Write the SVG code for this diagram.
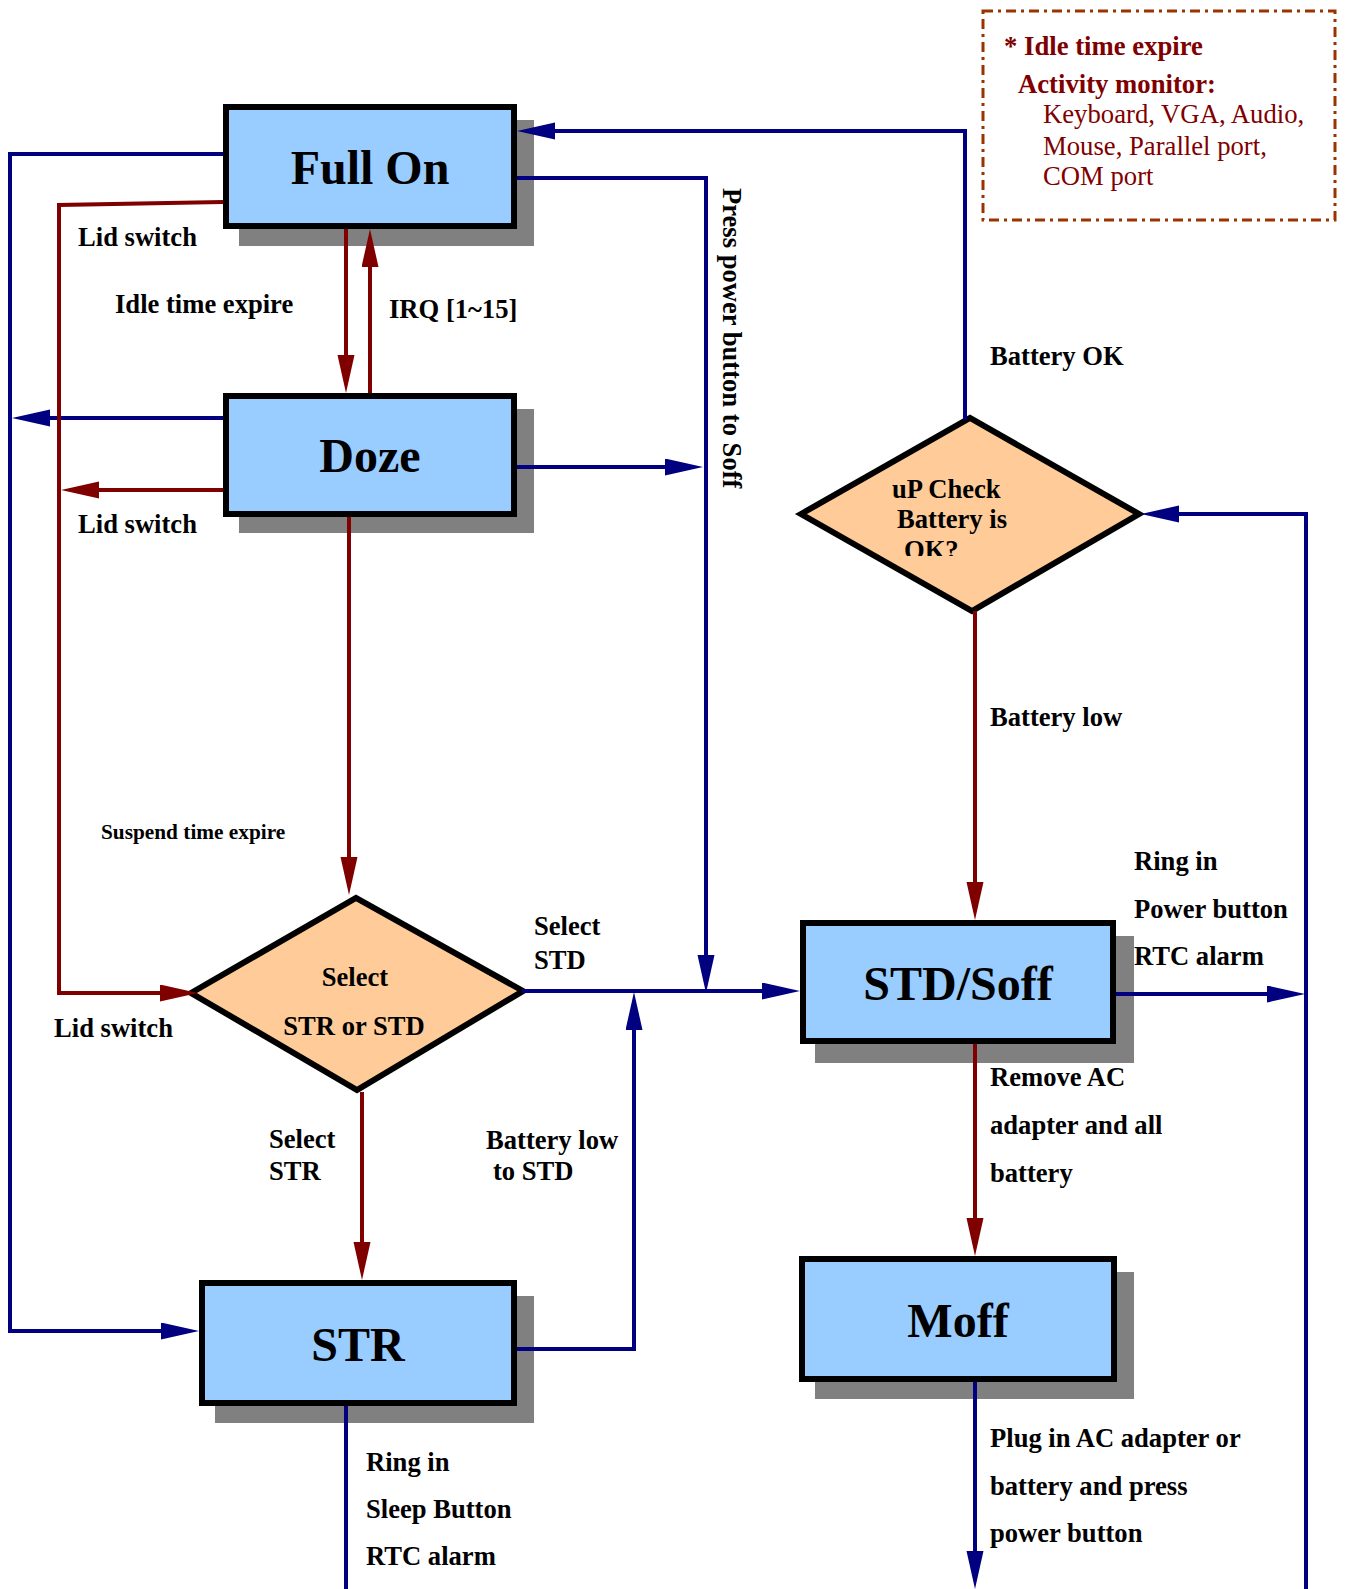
<svg xmlns="http://www.w3.org/2000/svg" width="1345" height="1589" viewBox="0 0 1345 1589">
<style>
.box{fill:#99CCFF;stroke:#000;stroke-width:6}
.shadow{fill:#808080}
.dia{fill:#FFCC99;stroke:#000;stroke-width:6;stroke-linejoin:miter}
.big{font-family:"Liberation Serif","Times New Roman",serif;font-weight:bold;font-size:48px;fill:#000;text-anchor:middle}
.lbl{font-family:"Liberation Serif","Times New Roman",serif;font-weight:bold;font-size:26.6px;fill:#000}
.small{font-family:"Liberation Serif","Times New Roman",serif;font-weight:bold;font-size:21.3px;fill:#000}
.note{font-family:"Liberation Serif","Times New Roman",serif;font-size:26.7px;fill:#800000}
.b{fill:none;stroke:#000080;stroke-width:4}
.r{fill:none;stroke:#800000;stroke-width:4}
.bm{marker-end:url(#ab)}
.rm{marker-end:url(#ar)}
</style>
<defs>
<marker id="ab" markerUnits="userSpaceOnUse" markerWidth="40" markerHeight="18" refX="28" refY="8.5" orient="auto" viewBox="0 0 40 18">
<path d="M0,0 L38,8.5 L0,17 Z" fill="#000080"/>
</marker>
<marker id="ar" markerUnits="userSpaceOnUse" markerWidth="40" markerHeight="18" refX="28" refY="8.5" orient="auto" viewBox="0 0 40 18">
<path d="M0,0 L38,8.5 L0,17 Z" fill="#800000"/>
</marker>
<clipPath id="okclip"><rect x="850" y="470" width="200" height="86"/></clipPath>
</defs>
<rect width="1345" height="1589" fill="#fff"/>

<g id="note">
<rect x="983" y="11" width="352" height="209" fill="none" stroke="#993300" stroke-width="3" stroke-dasharray="10,5,3,5"/>
<text class="note" x="1004" y="55" font-weight="bold">* Idle time expire</text>
<text class="note" x="1018" y="93" font-weight="bold">Activity monitor:</text>
<text class="note" x="1043" y="123">Keyboard, VGA, Audio,</text>
<text class="note" x="1043" y="155">Mouse, Parallel port,</text>
<text class="note" x="1043" y="185">COM port</text>
</g>

<g id="fullon">
<rect class="shadow" x="239" y="120" width="295" height="126"/>
<rect class="box" x="226" y="107" width="288" height="119"/>
<text class="big" x="370" y="184">Full On</text>
</g>
<g id="doze">
<rect class="shadow" x="239" y="409" width="295" height="124"/>
<rect class="box" x="226" y="396" width="288" height="118"/>
<text class="big" x="370" y="472">Doze</text>
</g>
<g id="str">
<rect class="shadow" x="215" y="1296" width="319" height="127"/>
<rect class="box" x="202" y="1283" width="312" height="120"/>
<text class="big" x="358" y="1361">STR</text>
</g>
<g id="stdsoff">
<rect class="shadow" x="815" y="936" width="319" height="127"/>
<rect class="box" x="803" y="923" width="310" height="118"/>
<text class="big" x="958" y="1000">STD/Soff</text>
</g>
<g id="moff">
<rect class="shadow" x="815" y="1272" width="319" height="127"/>
<rect class="box" x="802" y="1259" width="312" height="120"/>
<text class="big" x="958" y="1337">Moff</text>
</g>
<g id="upcheck">
<polygon class="dia" points="801,514 970,418 1139,514 972,611"/>
<text class="lbl" x="892" y="498">uP Check</text>
<text class="lbl" x="897" y="528">Battery is</text>
<text class="lbl" x="904" y="559" clip-path="url(#okclip)">OK?</text>
</g>
<g id="select">
<polygon class="dia" points="191,993 356,898 523,991 357,1090"/>
<text class="lbl" x="355" y="986" text-anchor="middle">Select</text>
<text class="lbl" x="354" y="1035" text-anchor="middle">STR or STD</text>
</g>

<g id="connectors">
<path class="b bm" d="M223,154 H10 V1331 H189"/>
<path class="b bm" d="M223,418 H22"/>
<path class="r rm" d="M223,202 L59,205 V993 H188"/>
<path class="r rm" d="M223,490 H71"/>
<path class="r rm" d="M346,229 V383"/>
<path class="r rm" d="M370,393 V239"/>
<path class="r rm" d="M349,517 V885"/>
<path class="b bm" d="M517,178 H706 V983"/>
<path class="b bm" d="M517,467 H693"/>
<path class="b bm" d="M522,991 H790"/>
<path class="b bm" d="M517,1349 H634 V1002"/>
<path class="r rm" d="M362,1092 V1270"/>
<path class="b" d="M346,1406 V1589"/>
<path class="r rm" d="M975,611 V910"/>
<path class="b bm" d="M965,420 V131 H527"/>
<path class="b bm" d="M1116,994 H1295"/>
<path class="b bm" d="M1306,1589 V514 H1151"/>
<path class="r rm" d="M975,1044 V1246"/>
<path class="b bm" d="M975,1382 V1579"/>
</g>

<g id="labels">
<text class="lbl" x="78" y="246">Lid switch</text>
<text class="lbl" x="115" y="313">Idle time expire</text>
<text class="lbl" x="389" y="318">IRQ [1~15]</text>
<text class="lbl" x="78" y="533">Lid switch</text>
<text class="lbl" transform="translate(723,188) rotate(90)">Press power button to Soff</text>
<text class="lbl" x="990" y="365">Battery OK</text>
<text class="lbl" x="990" y="726">Battery low</text>
<text class="small" x="101" y="839">Suspend time expire</text>
<text class="lbl" x="534" y="935">Select</text>
<text class="lbl" x="534" y="969">STD</text>
<text class="lbl" x="54" y="1037">Lid switch</text>
<text class="lbl" x="1134" y="870">Ring in</text>
<text class="lbl" x="1134" y="918">Power button</text>
<text class="lbl" x="1134" y="965">RTC alarm</text>
<text class="lbl" x="269" y="1148">Select</text>
<text class="lbl" x="269" y="1180">STR</text>
<text class="lbl" x="486" y="1149">Battery low</text>
<text class="lbl" x="493" y="1180">to STD</text>
<text class="lbl" x="990" y="1086">Remove AC</text>
<text class="lbl" x="990" y="1134">adapter and all</text>
<text class="lbl" x="990" y="1182">battery</text>
<text class="lbl" x="366" y="1471">Ring in</text>
<text class="lbl" x="366" y="1518">Sleep Button</text>
<text class="lbl" x="366" y="1565">RTC alarm</text>
<text class="lbl" x="990" y="1447">Plug in AC adapter or</text>
<text class="lbl" x="990" y="1495">battery and press</text>
<text class="lbl" x="990" y="1542">power button</text>
</g>
</svg>
